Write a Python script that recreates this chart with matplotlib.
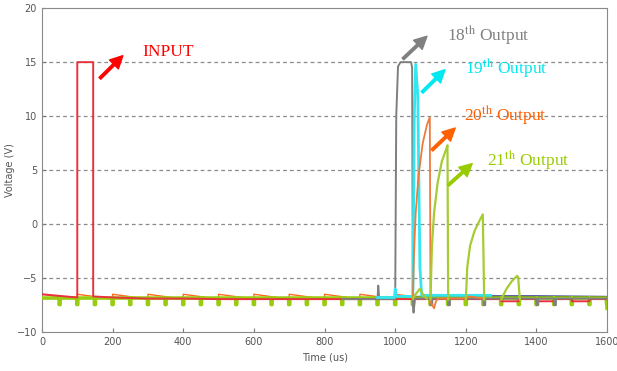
import matplotlib.pyplot as plt
import numpy as np

plt.rcParams['mathtext.fontset'] = 'stix'

# axis ticks
time_ticks = [0, 200, 400, 600, 800, 1000, 1200, 1400, 1600]
volt_ticks = [-10, -5, 0, 5, 10, 15, 20]
grid_levels = [-5, 0, 5, 10, 15]

# input pulse (red)
input_t = [0, 100, 100, 145, 145, 200, 300, 400, 500, 600, 700, 800, 900, 1000,
           1100, 1200, 1300, 1300, 1350, 1350, 1400, 1400, 1450, 1450, 1500, 1500,
           1550, 1550, 1600]
input_v = [-6.5, -6.8, 15, 15, -6.7, -6.8, -6.9, -6.9, -6.95, -6.95, -6.95, -6.95,
           -6.95, -6.95, -6.95, -6.95, -6.95, -7.15, -7.15, -6.95, -6.95, -7.15,
           -7.15, -6.95, -6.95, -7.15, -7.15, -6.95, -6.95]

# 18th output (gray)
out18_t = [850, 950, 952, 955, 1000, 1003, 1008, 1015, 1045, 1048, 1050, 1052, 1056,
           1100, 1100, 1105, 1105, 1150, 1150, 1155, 1155, 1250, 1250, 1255, 1255,
           1400, 1400, 1405, 1405, 1450, 1450, 1455, 1455, 1600]
out18_v = [-6.95, -6.95, -5.7, -6.95, -6.95, 10, 14.6, 15, 15, 14.5, -7.5, -8.2, -6.9,
           -6.9, -7.5, -7.5, -6.9, -6.9, -7.5, -7.5, -6.9, -6.9, -7.5, -7.5, -6.9,
           -6.9, -7.5, -7.5, -6.9, -6.9, -7.5, -7.5, -6.9, -6.9]

# 19th output (cyan)
out19_t = [950, 998, 1000, 1003, 1050, 1054, 1058, 1064, 1070, 1075, 1150, 1250, 1270]
out19_v = [-6.8, -6.8, -6.0, -6.7, -6.7, 10, 14.8, 12, -4, -6.6, -6.6, -6.6, -6.6]

# 20th output (orange)
saw_starts = [0, 100, 200, 300, 400, 500, 600, 700, 800, 900, 1000]
out20_t = [1050, 1053, 1058, 1066, 1078, 1090, 1098, 1100, 1110, 1115, 1120, 1200,
           1210, 1250]
out20_v = [-7.0, -3, 1, 4.5, 7.5, 9.2, 9.9, -7.2, -7.8, -7.2, -6.9, -6.9, -6.7, -6.9]

# 21st output (green)
dip_times = [50, 100, 150, 200, 250, 300, 350, 400, 450, 500, 550, 600, 650, 700,
             750, 800, 850, 900, 950, 1000, 1050, 1100, 1150, 1200, 1250, 1300,
             1350, 1400, 1450, 1500, 1550]
pulse1_t = [1050, 1060, 1070, 1080, 1090]
pulse1_v = [-6.9, -6.4, -6.0, -6.6, -6.9]
pulse2_t = [1100, 1104, 1110, 1120, 1132, 1145, 1148, 1150]
pulse2_v = [-7.0, -2, 1, 3.8, 5.8, 7.0, 7.3, -7.0]
pulse3_t = [1200, 1204, 1212, 1225, 1240, 1248, 1252]
pulse3_v = [-7.0, -4, -2, -0.6, 0.4, 0.9, -7.0]
pulse4_t = [1300, 1315, 1330, 1345, 1348, 1353]
pulse4_v = [-7.0, -6.0, -5.3, -4.8, -4.9, -7.0]

# navy trace at the right
navy_t = [1060, 1200, 1400, 1600]
navy_v = [-6.75, -6.7, -6.7, -6.75]

fig = plt.figure(figsize=(6.17, 3.71), dpi=100)
ax = fig.add_axes([0.068, 0.105, 0.916, 0.873])

for lvl in grid_levels:
    ax.axhline(lvl, color='#8a8a8a', lw=0.9, ls=(0, (3, 2.5)), zorder=0)

# orange saw baseline
saw_t, saw_v = [], []
for s in saw_starts:
    saw_t += [s, s + 100]
    saw_v += [-6.5, -6.95]
ax.plot(saw_t, saw_v, color='#ff6a1a', lw=1.0, zorder=2)

# green baseline with dips
g_t, g_v = [0], [-6.85]
for d in dip_times:
    g_t += [d - 1.5, d - 1.5, d + 1.5, d + 1.5]
    g_v += [-6.85, -7.45, -7.45, -6.85]
g_t += [1597, 1600]
g_v += [-6.85, -7.8]
ax.plot(g_t, g_v, color='#99cc11', lw=2.6, zorder=3)

ax.plot(navy_t, navy_v, color='#1a237e', lw=1.6, zorder=2)
ax.plot(input_t, input_v, color='#e8323c', lw=1.4, zorder=4)
ax.plot(out18_t, out18_v, color='#7f7f7f', lw=1.4, zorder=5)
ax.plot(out19_t, out19_v, color='#33e6f0', lw=2.0, zorder=5)
ax.plot(out20_t, out20_v, color='#f07a3c', lw=1.3, zorder=5)
for pt, pv in [(pulse1_t, pulse1_v), (pulse2_t, pulse2_v),
               (pulse3_t, pulse3_v), (pulse4_t, pulse4_v)]:
    ax.plot(pt, pv, color='#a6cc33', lw=1.6, zorder=5)

# labels with arrows
labels = [
    ('INPUT', '#ff0000', (283, 15.9), (164, 13.5), (229, 15.6)),
    ('18$^{\\rm th}$ Output', '#808080', (1147, 17.5), (1022, 15.3), (1090, 17.4)),
    ('19$^{\\rm th}$ Output', '#00e8f0', (1198, 14.4), (1076, 12.2), (1141, 14.3)),
    ('20$^{\\rm th}$ Output', '#ff6000', (1195, 10.1), (1104, 6.85), (1170, 8.9)),
    ('21$^{\\rm th}$ Output', '#99cc00', (1260, 5.9), (1150, 3.6), (1218, 5.6)),
]
for txt, col, pos, tail, head in labels:
    ax.text(pos[0], pos[1], txt, color=col, fontsize=12.5, family='Liberation Serif',
            va='center', ha='left', zorder=6)
    ax.annotate('', xy=head, xytext=tail, zorder=6,
                arrowprops=dict(facecolor=col, edgecolor=col, width=1.8,
                                headwidth=9, headlength=9))

ax.set_xlim(0, 1600)
ax.set_ylim(-10, 20)
ax.set_xticks(time_ticks)
ax.set_yticks(volt_ticks)
ax.tick_params(direction='in', length=3, colors='#7a7a7a', labelsize=7,
               labelcolor='#555555')
for sp in ax.spines.values():
    sp.set_color('#8a8a8a')
ax.set_xlabel('Time (us)', fontsize=7, color='#555555', labelpad=4)
ax.set_ylabel('Voltage (V)', fontsize=7, color='#555555', labelpad=1)

fig.savefig('out.png', dpi=100)
